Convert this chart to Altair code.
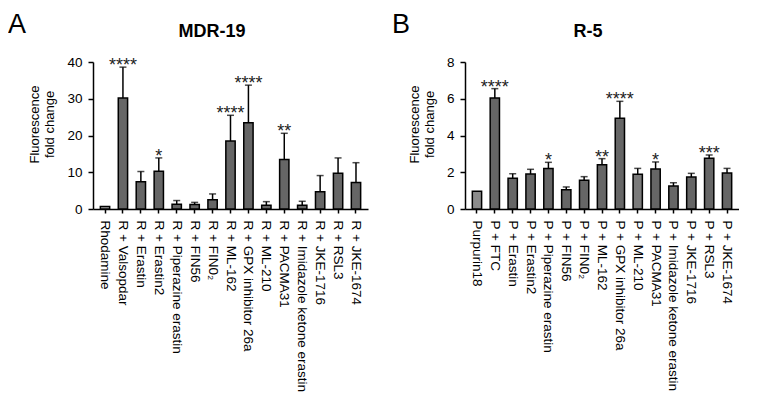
import altair as alt
import pandas as pd

labels_a = ["Rhodamine", "R + Valsopdar", "R + Erastin", "R + Erastin2",
            "R + Piperazine erastin", "R + FIN56", "R + FIN0₂", "R + ML-162",
            "R + GPX inhibitor 26a", "R + ML-210", "R + PACMA31",
            "R + Imidazole ketone erastin", "R + JKE-1716", "R + RSL3", "R + JKE-1674"]
means_a = [0.7, 30.2, 7.4, 10.3, 1.3, 1.2, 2.5, 18.5, 23.5, 1.0, 13.5, 1.0, 4.7, 9.7, 7.2]
upper_a = [None, 38.6, 10.2, 13.9, 2.3, 1.8, 4.1, 25.5, 33.7, 2.0, 20.6, 2.1, 9.1, 13.9, 12.6]
stars_a = ["", "****", "", "*", "", "", "", "****", "****", "", "**", "", "", "", ""]
tones_a = ["ref", "drug", "drug", "drug", "drug", "drug", "drug", "drug", "drug",
           "drug", "drug", "drug", "drug", "drug", "drug"]

labels_b = ["Purpurin18", "P + FTC", "P + Erastin", "P + Erastin2",
            "P + Piperazine erastin", "P + FIN56", "P + FIN0₂", "P + ML-162",
            "P + GPX inhibitor 26a", "P + ML-210", "P + PACMA31",
            "P + Imidazole ketone erastin", "P + JKE-1716", "P + RSL3", "P + JKE-1674"]
means_b = [0.96, 6.04, 1.67, 1.9, 2.21, 1.05, 1.56, 2.41, 4.94, 1.89, 2.18, 1.25, 1.74, 2.76, 1.96]
upper_b = [None, 6.55, 1.92, 2.16, 2.54, 1.2, 1.76, 2.74, 5.86, 2.21, 2.56, 1.43, 1.94, 2.94, 2.21]
stars_b = ["", "****", "", "", "*", "", "", "**", "****", "", "*", "", "", "***", ""]
tones_b = ["ref2", "drug", "drug", "drug", "drug", "drug", "drug", "drug", "drug",
           "alt", "drug", "drug", "drug", "drug", "drug"]

FONT = "Liberation Sans, Arial, Helvetica, sans-serif"


def panel(labels, means, upper, stars, tones, title, letter, ymax, yvals, width,
          letter_x, title_x):
    df = pd.DataFrame({"label": labels, "mean": means, "upper": upper,
                       "star": stars, "tone": tones})
    base = alt.Chart(df)
    xenc = alt.X("label:N", sort=labels,
                 scale=alt.Scale(paddingInner=0.48, paddingOuter=0.41),
                 axis=alt.Axis(title=None, labelAngle=90, labelAlign="left",
                               labelBaseline="middle", tickSize=4, labelPadding=7,
                               labelLimit=400, labelFontSize=13.5))
    yscale = alt.Scale(domain=[0, ymax], nice=False)
    yaxis = alt.Axis(values=yvals, title=["Fluorescence", "fold change"],
                     tickSize=5, labelPadding=6, titlePadding=10, titleY=62)

    bars = base.mark_bar(stroke="black", strokeWidth=1.5).encode(
        x=xenc,
        y=alt.Y("mean:Q", scale=yscale, axis=yaxis),
        color=alt.Color("tone:N", legend=None,
                        scale=alt.Scale(domain=["ref", "ref2", "alt", "drug"],
                                        range=["#a8a8a8", "#8c8c8c", "#7a7a7a", "#666666"])),
    )
    valid = base.transform_filter("isValid(datum.upper)")
    err = valid.mark_rule(color="black", strokeWidth=1.5).encode(
        x=xenc,
        y=alt.Y("mean:Q", scale=yscale, axis=yaxis),
        y2="upper:Q",
    )
    cap = valid.mark_tick(color="black", thickness=1.5, size=7, orient="horizontal").encode(
        x=xenc,
        y=alt.Y("upper:Q", scale=yscale, axis=yaxis),
    )
    star = base.transform_filter("datum.star != ''").mark_text(
        fontSize=18, baseline="alphabetic", dy=4, font=FONT, color="#222222"
    ).encode(
        x=xenc,
        y=alt.Y("upper:Q", scale=yscale, axis=yaxis),
        text="star:N",
    )
    head = alt.Chart(pd.DataFrame({"t": [letter], "ttl": [title]}))
    let = head.mark_text(
        fontSize=27, align="left", baseline="alphabetic", font=FONT, color="black"
    ).encode(x=alt.value(letter_x), y=alt.value(-29), text="t:N")
    ttl = head.mark_text(
        fontSize=18, fontWeight="bold", align="center", baseline="alphabetic",
        font=FONT, color="black"
    ).encode(x=alt.value(title_x), y=alt.value(-25), text="ttl:N")

    return alt.layer(err, bars, cap, star, let, ttl).properties(width=width, height=147)


pa = panel(labels_a, means_a, upper_a, stars_a, tones_a, "MDR-19", "A", 40,
           [0, 10, 20, 30, 40], 275, -85, 119)
pb = panel(labels_b, means_b, upper_b, stars_b, tones_b, "R-5", "B", 8,
           [0, 2, 4, 6, 8], 274, -73, 123)

chart = alt.hconcat(pa, pb, spacing=24).properties(
    padding={"left": 0, "top": 3, "right": 0, "bottom": 0}
).configure_view(
    stroke=None
).configure_axis(
    grid=False, domainColor="black", domainWidth=1.5, tickColor="black",
    tickWidth=1.5, labelColor="black", labelFont=FONT, labelFontSize=13.5,
    titleFont=FONT, titleFontSize=13, titleFontWeight="normal", titleColor="black",
)

chart.save("out.html", embed_options={"renderer": "svg", "actions": False})
